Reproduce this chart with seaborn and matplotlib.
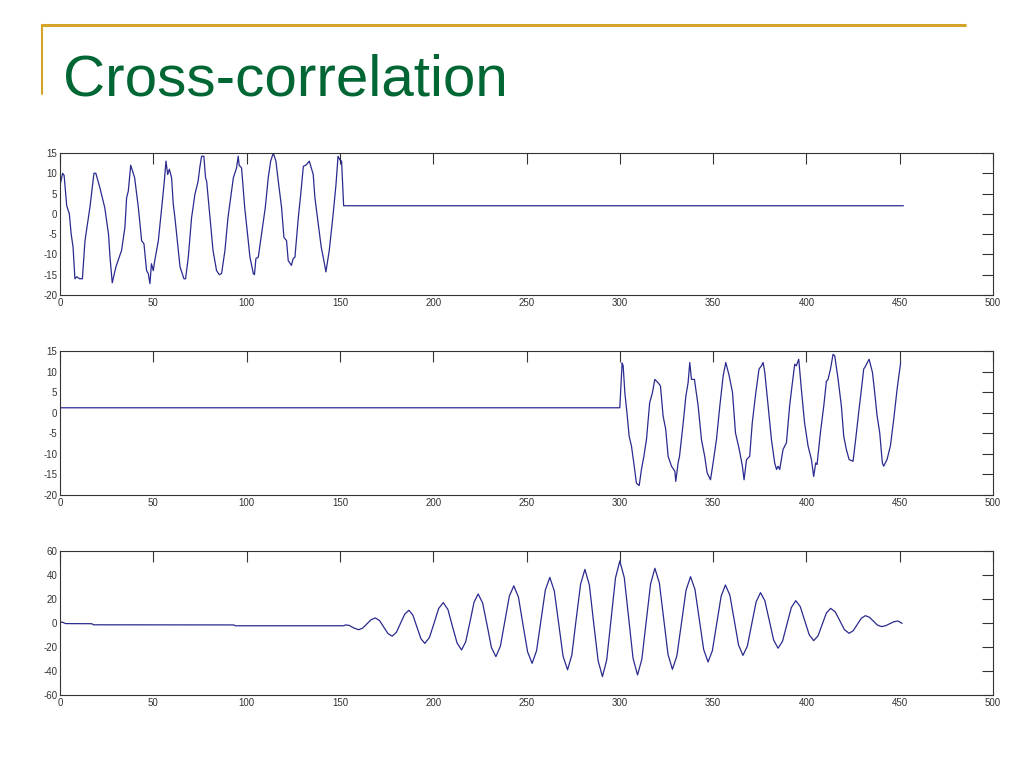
import numpy as np
import pandas as pd
import matplotlib
matplotlib.use("Agg")
import matplotlib.pyplot as plt
import seaborn as sns

# signal 1: noisy sine, then flat
x1 = [0, 1.4, 2.2, 3.6, 5, 6, 7, 8, 9, 10.5, 12, 13.4, 16, 18.2, 19.2, 21.4, 24, 26, 26.8, 28, 30,
      33, 34.8, 35.7, 36.6, 37.9, 40, 42, 43.75, 45, 46.4, 47.3, 48.2, 49, 50, 50.6, 52.7, 54.5,
      55.9, 56.8, 57.7, 58.6, 59.8, 60.7, 61.6, 63.4, 64.3, 66.4, 67.3, 68.75, 70.5, 72.3, 74, 75,
      75.9, 77.1, 78, 78.6, 80.4, 82, 83.9, 85.4, 86.6, 88.4, 90, 92.9, 94.6, 95.5, 96, 97.3, 99,
      100.5, 101.8, 103.6, 104.2, 105, 106.25, 108, 110, 111.6, 112.9, 114.3, 115.7, 117, 118.75,
      120, 121.4, 122.3, 123, 124, 125, 125.9, 127.7, 129, 130.4, 132, 133.6, 135.7, 136.6, 138.4,
      140, 141.4, 142.5, 144.3, 146.4, 147.9, 149, 150, 150.9, 152, 452]
y1 = [7, 10, 9.5, 2, 0, -5, -8.2, -16, -15.5, -16, -16, -6.6, 1.5, 10, 10, 6.4, 1.5, -5, -10.7,
      -17, -13, -9, -3.3, 4, 5.6, 12, 8.9, 1.5, -6.6, -7.4, -14, -14.7, -17.2, -12.3, -14, -12,
      -6.6, 1.5, 8, 13, 9.7, 11, 8.9, 2.4, -1, -9, -13, -16, -16, -10.7, -1, 4.8, 8, 11.7, 14.2,
      14.2, 8.9, 8, -1, -9, -14, -15, -14.7, -9, -1, 8.9, 11.3, 14.2, 12, 11.3, 1.5, -5, -10.7,
      -14.7, -15, -11, -10.7, -5, 1.5, 8.9, 13, 15, 13, 8, 1.5, -5.8, -6.6, -11.5, -12, -12.7,
      -11, -10.7, -1, 4.8, 11.7, 12.1, 13, 9.7, 4, -2.5, -8.2, -11.5, -14.3, -9, 0, 7.2, 14.2,
      13.3, 13, 2, 2]

# signal 2: flat, then noisy sine
x2 = [0, 300, 301.25, 301.8, 302.7, 304, 305, 306.25, 307.5, 308.9, 310.4, 311.6, 312.9, 314.3,
      316, 317.5, 318.75, 320.5, 321.8, 323.2, 324.6, 325.9, 327.7, 329.5, 330, 331.25, 332, 334,
      335.4, 336.6, 337.5, 338.4, 340, 342, 343.75, 345.5, 346.8, 348.6, 350, 351.8, 353.6,
      355.4, 356.8, 358.6, 360.4, 362, 364, 365.7, 366.6, 367.9, 369.6, 371, 372.9, 374.6,
      375.9, 376.8, 377.7, 379.5, 381.25, 383, 384, 384.8, 385.7, 387.5, 389.3, 391, 392.5,
      393.75, 394.6, 395.9, 397.3, 399, 400.9, 402.7, 403.9, 405, 405.7, 407.5, 409.3, 410.7,
      411.6, 412.9, 414.3, 415.2, 417, 418.75, 420, 421.4, 422.9, 425, 426.4, 428.2, 429.5,
      430.7, 431.8, 433.6, 435.4, 436.6, 437.9, 439.3, 440.7, 441.4, 443.2, 445, 446.8, 448.6,
      450.5]
y2 = [1.2, 1.2, 12.1, 11.4, 4.9, -0.8, -5.7, -8.1, -12.2, -17.1, -17.7, -13.8, -10.6, -6.5, 2.4,
      4.9, 8.1, 7.3, 6.5, -0.8, -4, -10.6, -13, -14.2, -16.7, -12.2, -10.6, -2.4, 4, 7.3, 12.2,
      8.1, 8.1, 1.6, -6.5, -10.6, -14.6, -16.3, -12.2, -6.5, 1.6, 9, 12.2, 9, 4.9, -4.9, -8.9,
      -13, -16.3, -11.4, -10.6, -2.4, 4.9, 10.6, 11.4, 12.2, 9.8, 1.6, -6.5, -12.2, -13.8, -13,
      -13.8, -8.9, -7.3, 1.6, 7.3, 11.8, 11.4, 13, 5.7, -2.4, -8.1, -11.4, -15.5, -12.2, -12.6,
      -4.9, 1.6, 7.6, 8.1, 10.6, 14.2, 13.8, 8.1, 1.6, -5.7, -8.9, -11.4, -11.8, -6.5, 0.8, 5.7,
      10.6, 11.4, 13, 9.8, 4.9, -0.8, -4.9, -12.2, -13, -11.4, -8.1, -1.6, 5.7, 12.2]

# signal 3: cross-correlation
x3 = [0, 1, 2, 3, 17, 18, 93, 94, 152, 153, 155, 157.5, 160, 162.25, 164.5, 166.75, 169,
      171.25, 173.5, 175.75, 178, 180.25, 182.5, 184.75, 187, 189.1, 191.25, 193.4, 195.5,
      198, 200.5, 202.9, 205.4, 207.9, 210.3, 212.8, 215.2, 217.4, 219.7, 221.9, 224.1, 226.5,
      228.9, 231.2, 233.6, 236, 238.4, 240.8, 243.2, 245.7, 248.1, 250.6, 253, 255.4, 257.75,
      260.1, 262.5, 264.9, 267.25, 269.6, 272, 274.3, 276.6, 279, 281.3, 283.7, 286, 288.4,
      290.7, 293, 295.35, 297.7, 300, 302.4, 304.75, 307.1, 309.5, 311.8, 314.15, 316.5, 318.8,
      321.2, 323.5, 325.85, 328.2, 330.6, 333.05, 335.5, 337.9, 340.25, 342.6, 344.95, 347.3,
      349.6, 351.95, 354.3, 356.6, 359, 361.3, 363.65, 366, 368.35, 370.7, 373.05, 375.4,
      377.75, 380.1, 382.45, 384.8, 387.2, 389.55, 391.9, 394.3, 396.7, 399.1, 401.5, 403.9,
      406.2, 408.45, 410.7, 413, 415.5, 417.95, 420.4, 422.9, 425.1, 427.25, 429.4, 431.6,
      433.75, 435.9, 438.05, 440.2, 442.4, 444.6, 446.8, 449, 451.3]
y3 = [0.3, 0.8, 0.2, -0.5, -0.6, -1.5, -1.6, -2.3, -2.3, -1.6, -2.0, -4.2, -5.6, -4.2, -0.7, 2.8,
      4.2, 2.0, -3.4, -8.8, -11, -7.8, -0.2, 7.4, 10.6, 6.6, -3.2, -13.0, -17, -12.0, 0, 12.0,
      17, 11.2, -2.75, -16.7, -22.5, -15.7, 0.85, 17.4, 24.2, 16.6, -1.9, -20.4, -28, -19.4,
      1.5, 22.4, 31, 21.5, -1.3, -24.1, -33.6, -23.1, 2.2, 27.5, 38, 26.7, -0.5, -27.7, -39,
      -26.7, 2.85, 32.4, 44.7, 31.6, 0, -31.6, -44.7, -30.6, 3.5, 37.6, 51.7, 37.8, 4.2, -29.4,
      -43.3, -30.3, 1.15, 32.6, 45.6, 33.3, 3.5, -26.3, -38.6, -27.3, 0, 27.3, 38.6, 28.2,
      3.05, -22.1, -32.5, -23.1, -0.4, 22.3, 31.7, 23.1, 2.35, -18.4, -27, -19.3, -0.85, 17.6,
      25.3, 18.5, 2.15, -14.2, -21, -15.2, -1.2, 12.8, 18.6, 13.7, 1.95, -9.8, -14.7, -10.8,
      -1.25, 8.3, 12.2, 9.2, 1.8, -5.6, -8.6, -6.4, -1.25, 3.9, 6.1, 4.8, 1.55, -1.7, -3,
      -2.3, -0.65, 1.0, 1.7, -0.3]

panels = [
    (x1, y1, (-20, 15), [-20, -15, -10, -5, 0, 5, 10, 15]),
    (x2, y2, (-20, 15), [-20, -15, -10, -5, 0, 5, 10, 15]),
    (x3, y3, (-60, 60), [-60, -40, -20, 0, 20, 40, 60]),
]
xticks = [0, 50, 100, 150, 200, 250, 300, 350, 400, 450, 500]

sns.set_style("white")
plt.rcParams['font.family'] = ['Liberation Sans', 'DejaVu Sans']
plt.rcParams['axes.unicode_minus'] = False

fig = plt.figure(figsize=(10.24, 7.68), dpi=100)

# slide decoration
gold = '#d4a42a'
fig.add_artist(plt.Line2D([42 / 1024, 965 / 1024], [1 - 25 / 768, 1 - 25 / 768],
                          color=gold, lw=2.2, transform=fig.transFigure))
fig.add_artist(plt.Line2D([42 / 1024, 42 / 1024], [1 - 25 / 768, 1 - 94 / 768],
                          color=gold, lw=1.5, transform=fig.transFigure))
fig.text(63 / 1024, 1 - 95 / 768, 'Cross-correlation', color='#006633', fontsize=42,
         ha='left', va='baseline')

tops = [153, 351, 551]
bottoms = [295, 495, 695]
for (xs, ys, ylim, yt), t, b in zip(panels, tops, bottoms):
    ax = fig.add_axes([60 / 1024, 1 - b / 768, (993 - 60) / 1024, (b - t) / 768])
    df = pd.DataFrame({'x': xs, 'y': ys})
    sns.lineplot(data=df, x='x', y='y', ax=ax, color='#2a2a8f', lw=0.9,
                 sort=False, estimator=None)
    ax.set_xlim(0, 500)
    ax.set_ylim(*ylim)
    ax.set_xticks(xticks)
    ax.set_yticks(yt)
    ax.set_xlabel('')
    ax.set_ylabel('')
    ax.tick_params(direction='in', length=8, width=0.8, top=True, right=True,
                   labelsize=7, colors='#333333', pad=2)
    for s in ax.spines.values():
        s.set_color('#333333')
        s.set_linewidth(0.8)

fig.savefig('out.png', dpi=100)
